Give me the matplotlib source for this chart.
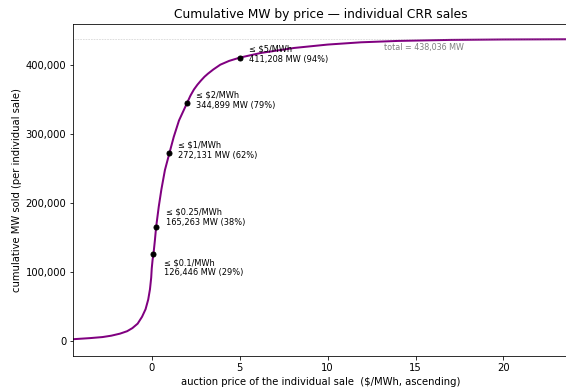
import matplotlib
matplotlib.use('Agg')
import matplotlib.pyplot as plt

# cumulative MW sold vs auction price (sales sorted by price)
price = [-4.46, -3.5, -2.8, -2.3, -1.8, -1.4, -1.1, -0.8, -0.55, -0.35,
         -0.2, -0.1, -0.03, 0.0, 0.05, 0.1, 0.18, 0.25, 0.4, 0.55,
         0.75, 1.0, 1.25, 1.55, 2.0, 2.2, 2.4, 2.6, 2.8, 3.0,
         3.2, 3.5, 3.9, 4.4, 5.0, 6.2, 8.1, 10.0, 11.9, 14.0,
         17.0, 20.0, 23.7, 30.0]
cum_mw = [2400, 4000, 5500, 7500, 10500, 14000, 18500, 25000, 35000, 46000,
          60000, 75000, 92000, 105000, 118000, 126446, 146000, 165263, 195000, 220000,
          248000, 272131, 296000, 320000, 344899, 356000, 365000, 372000, 378000, 383500,
          388000, 394000, 401000, 406500, 411208, 418000, 425300, 430200, 433500, 435500,
          437000, 437600, 437900, 438036]

total_mw = 438036

# price thresholds marked on the curve
thresholds = ['0.1', '0.25', '1', '2', '5']
thr_price = [0.1, 0.25, 1.0, 2.0, 5.0]
thr_mw = [126446, 165263, 272131, 344899, 411208]
thr_pct = [29, 38, 62, 79, 94]
label_offsets = [(11, -14), (10, 10), (9, 3), (9, 3), (9, 3)]

fig = plt.figure(figsize=(566 / 72, 389 / 72), dpi=72)
ax = fig.add_axes([0.1295, 0.085, 0.875, 0.853])

ax.plot(price, cum_mw, color='purple', linewidth=2)
ax.axhline(total_mw, color='grey', linestyle=':', linewidth=0.6, alpha=0.7)
ax.annotate(f'total = {total_mw:,} MW', xy=(15.5, total_mw), xytext=(0, -4),
            textcoords='offset points', ha='center', va='top', fontsize=8, color='grey')

for t, px, mw, pct, off in zip(thresholds, thr_price, thr_mw, thr_pct, label_offsets):
    ax.plot(px, mw, 'o', color='black', markersize=5)
    ax.annotate(f'≤ ${t}/MWh\n{mw:,} MW ({pct}%)', xy=(px, mw), xytext=off,
                textcoords='offset points', ha='left', va='center', fontsize=8.2)

ax.set_xlim(-4.46, 23.7)
ax.set_ylim(-21900, 459900)
ax.yaxis.set_major_formatter(matplotlib.ticker.FuncFormatter(lambda v, p: f'{v:,.0f}'))
ax.set_title('Cumulative MW by price — individual CRR sales', fontsize=12.2)
ax.set_xlabel('auction price of the individual sale  ($/MWh, ascending)')
ax.set_ylabel('cumulative MW sold (per individual sale)')

fig.savefig('out.png', dpi=72)
